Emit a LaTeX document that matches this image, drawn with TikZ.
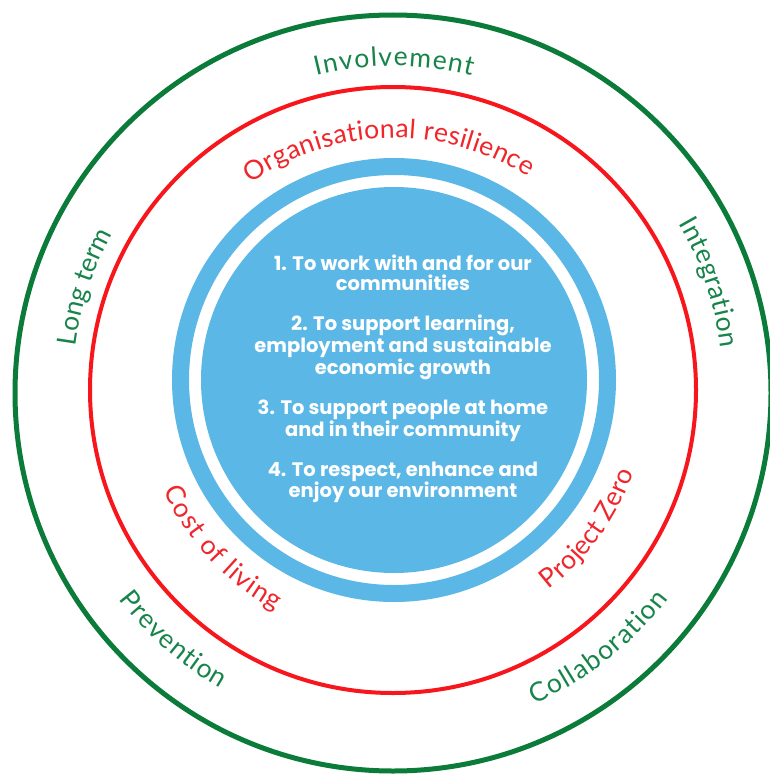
\documentclass[tikz,border=0pt]{standalone}
\usepackage{fontspec}
\usetikzlibrary{decorations.text}
\newfontfamily\ringfam{Lato}
\newfontfamily\innerfam{Poppins}
\definecolor{cgreen}{HTML}{0B7B3A}
\definecolor{cred}{HTML}{F7161B}
\definecolor{cblue}{HTML}{5BB8E6}
\definecolor{tgreen}{HTML}{17844A}
\definecolor{tred}{HTML}{F0262B}
\newcommand\ringtxt{\ringfam\fontsize{26.5}{26.5}\selectfont}
\tikzset{
  greenlabel/.style={decorate, decoration={text along path, text align=fit to path, text={|\ringtxt\color{tgreen}|#1}}},
  redlabel/.style={decorate, decoration={text along path, text align=fit to path, text={|\ringtxt\color{tred}|#1}}},
  goaltext/.style={align=center, text=white, font=\innerfam\bfseries\fontsize{19.5}{20}\selectfont}
}
\begin{document}
\begin{tikzpicture}[x=1pt,y=1pt]
\useasboundingbox (0,0) rectangle (769,-776);
\fill[white] (0,0) rectangle (769,-776);
\coordinate (C) at (394,-388);
% rings
\draw[cgreen, line width=5] (393,-393) circle[radius=378];
\draw[cred, line width=4] (393,-390) circle[radius=303];
\draw[cblue, line width=17] (394,-380) circle[radius=213.5];
\fill[cblue] (394,-380) circle[radius=193];
% goals
\node[goaltext] (goals) at (403,-379) {1. To work with and for our\\communities\\[20pt]2. To support learning,\\employment and sustainable\\economic growth\\[20pt]3. To support people at home\\and in their community\\[20pt]4. To respect, enhance and\\enjoy our environment};
% green labels
\path[greenlabel=Involvement] (C) ++(104:322) arc[start angle=104, end angle=76, radius=322];
\path[greenlabel=Long term] (C) ++(172.5:321) arc[start angle=172.5, end angle=151.5, radius=321];
\path[greenlabel=Integration] (C) ++(30:329) arc[start angle=30, end angle=7, radius=329];
\path[greenlabel=Prevention] (C) ++(217.5:347) arc[start angle=217.5, end angle=240, radius=347];
\path[greenlabel=Collaboration] (C) ++(-66:346) arc[start angle=-66, end angle=-37.5, radius=346];
% red labels
\path[redlabel=Organisational resilience] (C) ++(125:250) arc[start angle=125, end angle=57.5, radius=250];
\path[redlabel=Cost of living] (C) ++(204:252) arc[start angle=204, end angle=242, radius=252];
\path[redlabel=Project Zero] (C) ++(-52.5:254) arc[start angle=-52.5, end angle=-19.5, radius=254];
\end{tikzpicture}
\end{document}
